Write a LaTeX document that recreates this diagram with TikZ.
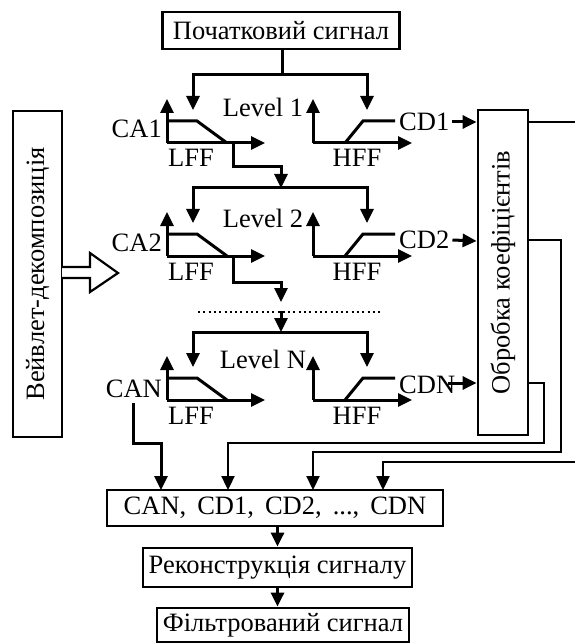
\documentclass[tikz,border=0pt]{standalone}
\usepackage{fontspec}
\setmainfont{Liberation Serif}
\usetikzlibrary{arrows.meta}
\begin{document}
\begin{tikzpicture}[x=1pt,y=-1pt,
  txt/.style={font=\fontsize{26.5}{30}\selectfont, inner sep=0pt},
  box/.style={draw, line width=2.8pt, inner sep=0pt, font=\fontsize{26.5}{30}\selectfont},
  ln/.style={line width=3pt},
  thn/.style={line width=2.3pt},
  arr/.style={-{Triangle[length=14pt,width=13pt]}},
  darr/.style={{Triangle[length=14pt,width=13pt]}-{Triangle[length=14pt,width=13pt]}}]
\useasboundingbox (0,0) rectangle (574,644);

% boxes
\node[box, minimum width=237pt, minimum height=37pt] (top) at (281,30.5) {Початковий сигнал};
\node[box, minimum width=50pt, minimum height=325pt] (obr) at (503,272.5) {};
\node[txt, rotate=90] (obrt) at (obr.center) {Обробка коефіцієнтів};
\node[box, minimum width=49pt, minimum height=326pt] (wav) at (37.5,274) {};
\node[txt, rotate=90] (wavt) at (wav.center) {Вейвлет-декомпозиція};
\node[box, minimum width=336pt, minimum height=36pt] (bot) at (275,508) {CAN,\, CD1,\, CD2,\, ...,\, CDN};
\node[box, minimum width=269pt, minimum height=39pt] (rec) at (277.5,567.5) {Реконструкція сигналу};
\node[box, minimum width=252pt, minimum height=34pt] (fil) at (283,625) {Фільтрований сигнал};

% level labels
\node[txt, anchor=base] (lv1) at (263,117) {Level 1};
\node[txt, anchor=base] (lv2) at (263,227) {Level 2};
\node[txt, anchor=base] (lvN) at (263,368) {Level N};
\node[txt, anchor=base east] (ca1) at (162,138) {CA1};
\node[txt, anchor=base east] (ca2) at (162,251) {CA2};
\node[txt, anchor=base east] (can) at (162,397) {CAN};
\node[txt, anchor=west] (cd1) at (399,122) {CD1};
\node[txt, anchor=west] (cd2) at (399,240) {CD2};
\node[txt, anchor=west] (cdn) at (399,385) {CDN};
\foreach \d/\n in {0/1,113/2,257/3}{
  \node[txt, anchor=base] (lff\n) at (191,167+\d) {LFF};
  \node[txt, anchor=base] (hff\n) at (357,167+\d) {HFF};
  % distribution
  \draw[ln,darr] (193,110+\d) -- (193,75+\d) -- (367,75+\d) -- (367,110+\d);
  % LFF symbol
  \draw[ln,arr] (167,143+\d) -- (167,99+\d);
  \draw[ln,arr] (167,143+\d) -- (265,143+\d);
  \draw[ln] (167,121+\d) -- (197,121+\d) -- (227,143+\d);
  % HFF symbol
  \draw[ln,arr] (313,143+\d) -- (313,99+\d);
  \draw[ln,arr] (313,143+\d) -- (412,143+\d);
  \draw[ln] (345,143+\d) -- (363,121+\d) -- (395,121+\d);
}
% top feed
\draw[ln] (top.south -| 282,0) -- (282,75);
% cascades
\draw[ln,arr] (233,143) -- (233,167) -- (281,167) -- (281,188);
\draw[ln,arr] (233,256) -- (233,282) -- (281,282) -- (281,302);
\draw[line width=2.3pt, dash pattern=on 2pt off 3.3pt] (198,312) -- (380,312);
\draw[ln,arr] (281,311) -- (281,332);

% CD arrows to processing box
\draw[ln,arr] (cd1.east) ++(3,0) -- (obr.west |- 0,122);
\draw[ln,arr] (cd2.east) ++(3,0) -- (obr.west |- 0,241);
\draw[ln,arr] (448,383) -- (obr.west |- 0,383);

% wavelet hollow arrow
\draw[line width=2.2pt, fill=white] (62,267) -- (90,267) -- (90,253) -- (118,273) -- (90,292) -- (90,278) -- (62,278);

% outputs
\coordinate (e1) at (578,122);
\coordinate (e2) at (578,462);
\draw[thn] (obr.east |- 0,122) -- (e1);
\draw[thn,arr] (e2) -- (383,462) -- (383,490);
\draw[thn,arr] (obr.east |- 0,240) -- (561,240) -- (561,452) -- (313,452) -- (313,490);
\draw[thn,arr] (obr.east |- 0,383) -- (544,383) -- (544,443) -- (228,443) -- (228,490);
\draw[ln,arr] (133,403) -- (133,443) -- (161,443) -- (161,490);

% bottom chain
\draw[ln,arr] (rec.north |- bot.south) -- (rec.north);
\draw[ln,arr] (rec.south) -- (rec.south |- fil.north);
\end{tikzpicture}
\end{document}
